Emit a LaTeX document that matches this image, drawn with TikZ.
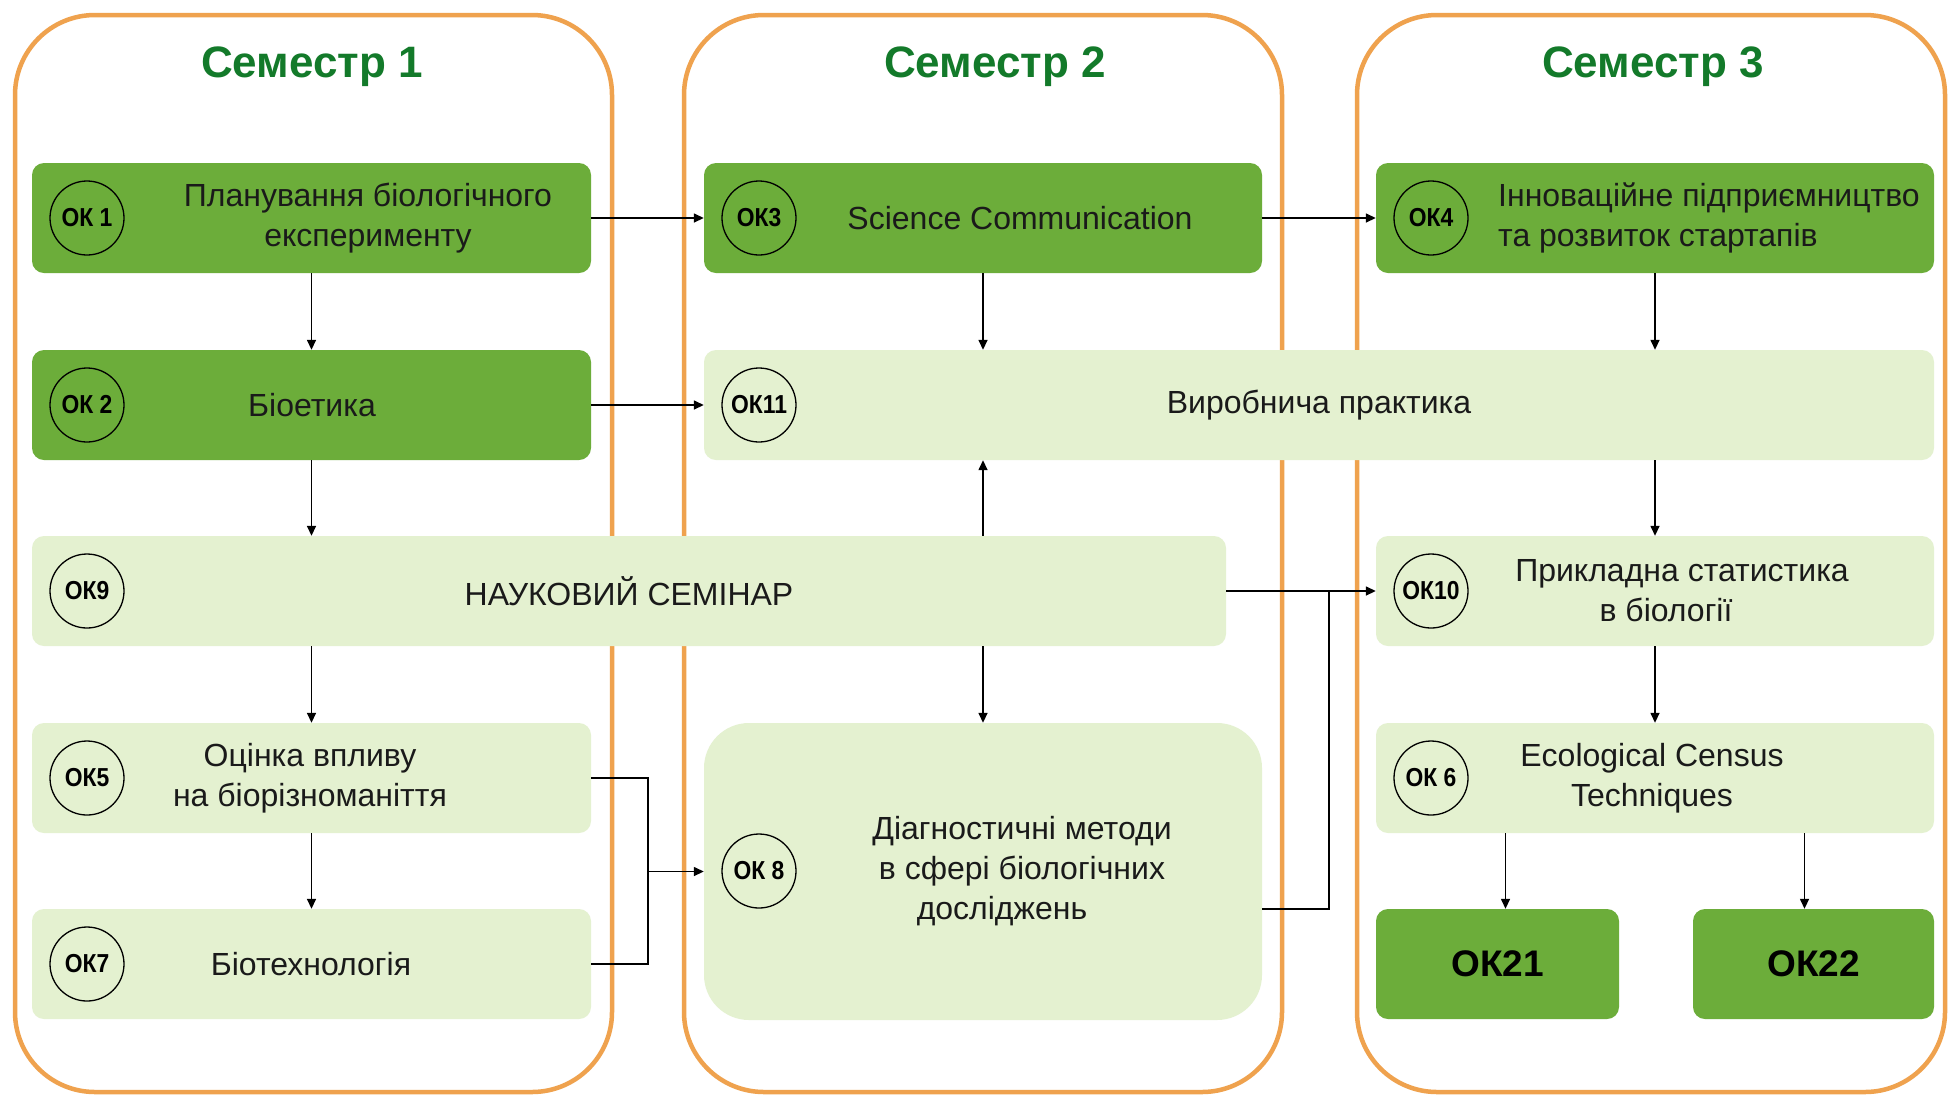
\documentclass[tikz,border=0pt]{standalone}
\usepackage{fontspec}
\usepackage{graphicx}
\setmainfont{Liberation Sans}
\usetikzlibrary{arrows.meta,calc}
\definecolor{dkgreen}{HTML}{6CAD3A}
\definecolor{ltgreen}{HTML}{E4F1D0}
\definecolor{frameorange}{HTML}{EFA24E}
\definecolor{titlegreen}{HTML}{137A2A}
\definecolor{inkgray}{HTML}{1A1A1A}
\newcommand\oklabel[1]{\scalebox{0.88}[1]{#1}}
\begin{document}
\begin{tikzpicture}[x=1pt,y=-1pt,
  semframe/.style={draw=frameorange,line width=4.5pt,rounded corners=80pt,inner sep=0pt,outer sep=0pt},
  dkbox/.style={fill=dkgreen,rounded corners=12pt,draw=none,inner sep=0pt,minimum height=110pt},
  ltbox/.style={fill=ltgreen,rounded corners=12pt,draw=none,inner sep=0pt,minimum height=110pt},
  okc/.style={circle,draw=black,line width=1.3pt,minimum size=74pt,inner sep=0pt,text=black,font=\fontsize{26}{26}\selectfont\bfseries},
  txt/.style={font=\fontsize{32}{40}\selectfont,text=inkgray,align=center,inner sep=0pt},
  bigtxt/.style={font=\fontsize{37}{37}\selectfont\bfseries,text=black,inner sep=0pt},
  ttl/.style={font=\fontsize{44}{44}\selectfont\bfseries,text=titlegreen,inner sep=0pt,anchor=base},
  arr/.style={line width=1.5pt,draw=black,-{Triangle[length=10pt,width=9pt]}},
  ln/.style={line width=1.5pt,draw=black}
]
\useasboundingbox[fill=white] (0,0) rectangle (1948,1096);

% semester frames
\node[semframe,minimum width=597pt,minimum height=1077pt] (s1) at (313.5,553.5) {};
\node[semframe,minimum width=598pt,minimum height=1077pt] (s2) at (983,553.5) {};
\node[semframe,minimum width=588pt,minimum height=1077pt] (s3) at (1651,553.5) {};

\node[ttl] (h1) at (312,77) {Семестр 1};
\node[ttl] (h2) at (995,77) {Семестр 2};
\node[ttl] (h3) at (1653,77) {Семестр 3};

% boxes
\node[dkbox,minimum width=559pt] (b1) at (311.5,218) {};
\node[dkbox,minimum width=558pt] (b3) at (983,218) {};
\node[dkbox,minimum width=558pt] (b4) at (1655,218) {};
\node[dkbox,minimum width=559pt] (b2) at (311.5,405) {};
\node[ltbox,minimum width=1230pt] (b11) at (1319,405) {};
\node[ltbox,minimum width=1194pt] (b9) at (629,591) {};
\node[ltbox,minimum width=558pt] (b10) at (1655,591) {};
\node[ltbox,minimum width=559pt] (b5) at (311.5,778) {};
\node[ltbox,minimum width=558pt,minimum height=297pt,rounded corners=45pt] (b8) at (983,871.5) {};
\node[ltbox,minimum width=558pt] (b6) at (1655,778) {};
\node[ltbox,minimum width=559pt] (b7) at (311.5,964) {};
\node[dkbox,minimum width=243pt] (b21) at (1497.5,964) {};
\node[dkbox,minimum width=241pt] (b22) at (1813.5,964) {};

% circles
\node[okc] (c1) at (87,218) {\oklabel{ОК 1}};
\node[okc] (c3) at (759,218) {\oklabel{ОК3}};
\node[okc] (c4) at (1431,218) {\oklabel{ОК4}};
\node[okc] (c2) at (87,405) {\oklabel{ОК 2}};
\node[okc] (c11) at (759,405) {\oklabel{ОК11}};
\node[okc] (c9) at (87,591) {\oklabel{ОК9}};
\node[okc] (c10) at (1431,591) {\oklabel{ОК10}};
\node[okc] (c5) at (87,778) {\oklabel{ОК5}};
\node[okc] (c8) at (759,871) {\oklabel{ОК 8}};
\node[okc] (c6) at (1431,778) {\oklabel{ОК 6}};
\node[okc] (c7) at (87,964) {\oklabel{ОК7}};

% texts
\node[txt] (t1) at (368,218) {Планування біологічного\\експерименту};
\node[txt] (t3) at (1020,218) {Science Communication};
\node[txt,align=left,anchor=west] (t4) at (1498,218) {Інноваційне підприємництво\\та розвиток стартапів};
\node[txt] (t2) at (312,405) {Біоетика};
\node[txt] (t11) at (1319,405) {Виробнича практика};
\node[txt] (t9) at (629,591) {НАУКОВИЙ СЕМІНАР};
\node[txt] (t10) at (1682,591) {Прикладна статистика\\в біології\hspace*{32pt}};
\node[txt] (t5) at (310,778) {Оцінка впливу\\на біорізноманіття};
\node[txt] (t7) at (311,964) {Біотехнологія};
\node[txt] (t8) at (1022,871) {Діагностичні методи\\в сфері біологічних\\досліджень\hspace*{40pt}};
\node[txt] (t6) at (1652,778) {Ecological Census\\Techniques};
\node[bigtxt] (t21) at (b21) {ОК21};
\node[bigtxt] (t22) at (b22) {ОК22};

% connectors
\draw[arr] (b1.east) -- (b3.west);
\draw[arr] (b3.east) -- (b4.west);
\draw[arr] (b2.east) -- (b11.west);
\draw[arr] (b1.south) -- (b2.north);
\draw[arr] (b2.south) -- (b9.north -| b2.south);
\draw[arr] (b9.south -| b5.north) -- (b5.north);
\draw[arr] (b5.south) -- (b7.north);
\draw[arr] (b3.south) -- (b11.north -| b3.south);
\draw[arr] (b4.south) -- (b11.north -| b4.south);
\draw[arr] (b11.south -| b10.north) -- (b10.north);
\draw[arr] (b9.north -| b8.north) -- (b11.south -| b8.north);
\draw[arr] (b9.south -| b8.north) -- (b8.north);
\draw[arr] (b10.south) -- (b6.north);
\coordinate (a21) at ($(b21.north)+(8,0)$);
\coordinate (a22) at ($(b22.north)+(-9,0)$);
\draw[arr] (b6.south -| a21) -- (a21);
\draw[arr] (b6.south -| a22) -- (a22);

\coordinate (j1) at (648,871.5);
\draw[ln] (b5.east) -| (j1);
\draw[ln] (b7.east) -| (j1);
\draw[arr] (j1) -- (b8.west);

\coordinate (o8) at ($(b8.east)+(0,37.5)$);
\coordinate (j2) at (1329,591);
\draw[ln] (o8) -| (j2);
\draw[arr] (b9.east) -- (b10.west);
\end{tikzpicture}
\end{document}
